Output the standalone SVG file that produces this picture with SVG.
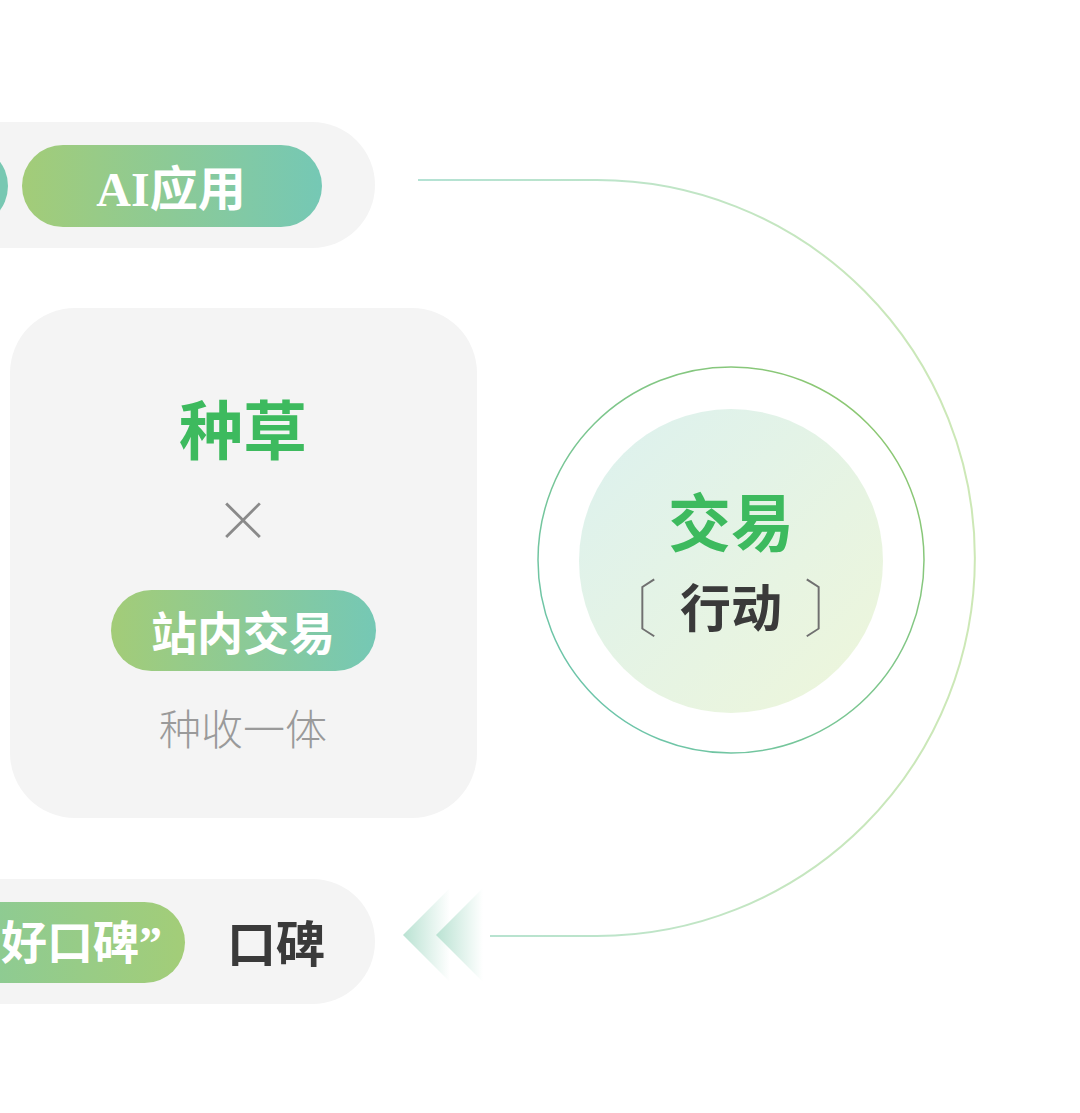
<svg xmlns="http://www.w3.org/2000/svg" width="1080" height="1113" viewBox="0 0 1080 1113">
<style>
.bg{fill:#f4f4f4}
.pillg{fill:url(#gPill)}
.pillr{fill:url(#gPillR)}
.wt{fill:#ffffff;font-family:"Liberation Serif","Noto Sans CJK SC",serif;font-weight:700;text-anchor:middle}
.gr{fill:#3dba5e;font-family:"Noto Sans CJK SC",sans-serif;font-weight:700;text-anchor:middle}
.dk{fill:#3a3a3a;font-family:"Noto Sans CJK SC",sans-serif;font-weight:700;text-anchor:middle}
.lt{fill:#9a9a9a;font-family:"Noto Sans CJK SC",sans-serif;font-weight:300;text-anchor:middle}
.br{fill:#707070;font-family:"Noto Sans CJK SC",sans-serif;font-weight:100}
</style>
<defs>
<linearGradient id="gPill" x1="0" y1="0" x2="1" y2="0">
<stop offset="0" stop-color="#a3cc78"/>
<stop offset="1" stop-color="#75c8b5"/>
</linearGradient>
<linearGradient id="gPillR" x1="0" y1="0" x2="1" y2="0">
<stop offset="0" stop-color="#78c9ae"/>
<stop offset="1" stop-color="#a3cd78"/>
</linearGradient>
<linearGradient id="gRing" x1="0" y1="1" x2="1" y2="0">
<stop offset="0" stop-color="#66c4b4"/>
<stop offset="1" stop-color="#92c868"/>
</linearGradient>
<linearGradient id="gDisc" x1="0" y1="0" x2="1" y2="1">
<stop offset="0" stop-color="#dcf1ef"/>
<stop offset="1" stop-color="#eef6da"/>
</linearGradient>
<linearGradient id="gArc" gradientUnits="userSpaceOnUse" x1="418" y1="0" x2="975" y2="0">
<stop offset="0" stop-color="#b4e2d4"/>
<stop offset="1" stop-color="#cde8b6"/>
</linearGradient>
<linearGradient id="gChev" x1="0" y1="0" x2="1" y2="0">
<stop offset="0" stop-color="#b9e2d2"/>
<stop offset="1" stop-color="#ffffff"/>
</linearGradient>
</defs>
<rect width="1080" height="1113" fill="#ffffff"/>

<g id="connectors">
<path d="M418 180 H597 A378 378 0 0 1 597 936 H490" fill="none" stroke="url(#gArc)" stroke-width="2"/>
<polygon points="403,935 450,888 450,982" fill="url(#gChev)"/>
<polygon points="436,935 483,888 483,982" fill="url(#gChev)"/>
</g>

<g id="node-ai">
<rect class="bg" x="-200" y="122" width="575" height="126" rx="63"/>
<rect x="-200" y="145" width="208" height="82" rx="41" style="fill:#78c8b2"/>
<rect class="pillg" x="22" y="145" width="300" height="82" rx="41"/>
<text class="wt" x="171" y="206" font-size="48">AI应用</text>
</g>

<g id="node-zhongcao">
<rect class="bg" x="10" y="308" width="467" height="510" rx="65"/>
<text class="gr" x="243" y="454" font-size="64">种草</text>
<text class="lt" x="243" y="541" font-size="56" style="fill:#8a8a8a;font-weight:200">×</text>
<rect class="pillg" x="111" y="590" width="265" height="81" rx="40.5"/>
<text class="wt" x="243" y="650" font-size="46">站内交易</text>
<text class="lt" x="243" y="745" font-size="42">种收一体</text>
</g>

<g id="node-jiaoyi">
<circle cx="731" cy="560" r="193" fill="none" stroke="url(#gRing)" stroke-width="1.5"/>
<circle cx="731" cy="561" r="152" fill="url(#gDisc)"/>
<text class="gr" x="731" y="546" font-size="63">交易</text>
<text class="dk" x="731" y="627" font-size="51">行动</text>
<text class="br" x="658" y="632" font-size="62" text-anchor="end">〔</text>
<text class="br" x="803" y="632" font-size="62" text-anchor="start">〕</text>
</g>

<g id="node-koubei">
<rect class="bg" x="-200" y="879" width="575" height="125" rx="62.5"/>
<rect class="pillr" x="-200" y="902" width="385" height="81" rx="40.5"/>
<text class="wt" x="162" y="959" font-size="46" style="text-anchor:end">好口碑”</text>
<text class="dk" x="276" y="962" font-size="49">口碑</text>
</g>
</svg>
